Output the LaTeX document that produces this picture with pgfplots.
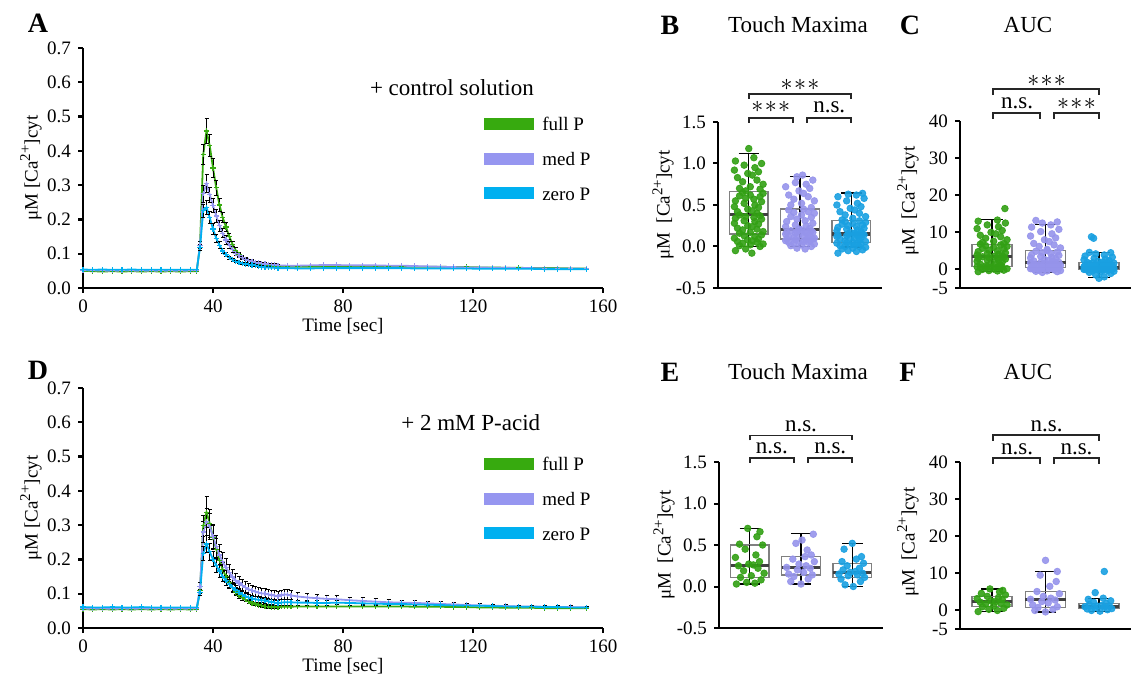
\documentclass[border=0pt]{standalone}
\usepackage{fontspec}
\setmainfont{Liberation Serif}
\usepackage{pgfplots}
\pgfplotsset{compat=1.18}
\usepackage{pgfplotstable}
\usepgfplotslibrary{statistics}

\definecolor{cg}{RGB}{55,170,15}
\definecolor{cp}{RGB}{150,150,240}
\definecolor{cb}{RGB}{0,176,240}
\definecolor{pg}{RGB}{50,160,20}
\definecolor{pp}{RGB}{150,148,235}
\definecolor{pb}{RGB}{25,160,225}

\newcommand{\tickfont}{\fontsize{9.5}{11}\selectfont}
\newcommand{\ttlfont}{\fontsize{11.5}{13.5}\selectfont}
\newcommand{\letfont}{\fontsize{14}{16}\selectfont\bfseries}
\newcommand{\casup}{\raisebox{0.85ex}{\fontsize{7.5}{8}\selectfont 2+}}

\pgfplotstableread{
t g ge p pe b be
0 0.050 0.002 0.052 0.002 0.054 0.002
3 0.049 0.002 0.051 0.002 0.053 0.002
6 0.048 0.002 0.051 0.002 0.054 0.002
9 0.049 0.002 0.050 0.002 0.053 0.002
12 0.048 0.002 0.051 0.002 0.053 0.002
15 0.049 0.002 0.051 0.002 0.054 0.002
18 0.048 0.002 0.050 0.002 0.053 0.002
21 0.049 0.002 0.051 0.002 0.053 0.002
24 0.048 0.002 0.050 0.002 0.053 0.002
27 0.049 0.002 0.051 0.002 0.053 0.002
30 0.048 0.002 0.050 0.002 0.053 0.002
33 0.049 0.002 0.051 0.002 0.053 0.002
35 0.049 0.002 0.051 0.002 0.053 0.002
36 0.125 0.010 0.125 0.010 0.118 0.008
37 0.390 0.030 0.275 0.025 0.225 0.018
38 0.458 0.037 0.305 0.025 0.235 0.020
39 0.415 0.032 0.272 0.022 0.205 0.018
40 0.350 0.028 0.240 0.020 0.172 0.015
41 0.292 0.022 0.210 0.018 0.145 0.012
42 0.242 0.018 0.182 0.016 0.125 0.010
43 0.205 0.015 0.160 0.014 0.108 0.008
44 0.178 0.012 0.140 0.012 0.097 0.006
45 0.150 0.010 0.125 0.010 0.088 0.005
46 0.128 0.008 0.112 0.008 0.082 0.004
47 0.110 0.007 0.101 0.007 0.077 0.004
48 0.098 0.006 0.094 0.006 0.074 0.003
49 0.090 0.005 0.088 0.005 0.072 0.003
50 0.084 0.004 0.083 0.004 0.070 0.003
51 0.080 0.004 0.080 0.004 0.068 0.003
52 0.077 0.004 0.078 0.004 0.067 0.003
53 0.074 0.003 0.075 0.003 0.065 0.003
54 0.072 0.003 0.073 0.003 0.063 0.002
55 0.070 0.003 0.071 0.003 0.061 0.002
56 0.068 0.003 0.070 0.003 0.060 0.002
57 0.066 0.003 0.069 0.003 0.060 0.002
58 0.065 0.003 0.068 0.003 0.059 0.002
59 0.064 0.003 0.067 0.003 0.059 0.002
60 0.063 0.003 0.066 0.003 0.058 0.002
63 0.062 0.003 0.065 0.003 0.058 0.002
66 0.062 0.003 0.065 0.003 0.057 0.002
70 0.062 0.003 0.066 0.003 0.057 0.002
74 0.062 0.003 0.067 0.003 0.058 0.002
78 0.063 0.003 0.067 0.003 0.058 0.002
82 0.063 0.003 0.066 0.003 0.058 0.002
86 0.063 0.003 0.066 0.003 0.058 0.002
90 0.063 0.003 0.066 0.003 0.058 0.002
94 0.063 0.003 0.065 0.003 0.058 0.002
98 0.062 0.003 0.065 0.003 0.058 0.002
102 0.062 0.003 0.064 0.003 0.057 0.002
106 0.062 0.003 0.063 0.003 0.057 0.002
110 0.062 0.003 0.062 0.003 0.057 0.002
114 0.061 0.003 0.061 0.003 0.057 0.002
118 0.061 0.003 0.060 0.003 0.057 0.002
122 0.060 0.003 0.060 0.003 0.056 0.002
126 0.060 0.003 0.059 0.003 0.056 0.002
130 0.059 0.003 0.059 0.003 0.056 0.002
134 0.059 0.003 0.058 0.003 0.056 0.002
138 0.058 0.003 0.058 0.003 0.056 0.002
142 0.058 0.003 0.057 0.003 0.055 0.002
146 0.058 0.003 0.057 0.003 0.055 0.002
150 0.057 0.003 0.057 0.003 0.055 0.002
155 0.057 0.003 0.056 0.003 0.055 0.002
}\dataA

\pgfplotstableread{
t g ge p pe b be
0 0.055 0.002 0.057 0.002 0.061 0.002
3 0.054 0.002 0.056 0.002 0.060 0.002
6 0.055 0.002 0.057 0.002 0.060 0.002
9 0.054 0.002 0.056 0.002 0.061 0.002
12 0.055 0.002 0.057 0.002 0.060 0.002
15 0.054 0.002 0.056 0.002 0.060 0.002
18 0.055 0.002 0.057 0.002 0.061 0.002
21 0.054 0.002 0.056 0.002 0.060 0.002
24 0.055 0.002 0.057 0.002 0.060 0.002
27 0.054 0.002 0.056 0.002 0.060 0.002
30 0.055 0.002 0.057 0.002 0.060 0.002
33 0.054 0.002 0.056 0.002 0.060 0.002
35 0.055 0.002 0.056 0.002 0.060 0.002
36 0.110 0.010 0.122 0.010 0.103 0.008
37 0.298 0.030 0.280 0.030 0.218 0.020
38 0.338 0.045 0.310 0.040 0.245 0.025
39 0.305 0.040 0.296 0.038 0.222 0.025
40 0.265 0.035 0.266 0.035 0.200 0.022
41 0.230 0.030 0.238 0.032 0.182 0.020
42 0.198 0.026 0.213 0.030 0.166 0.018
43 0.170 0.022 0.193 0.028 0.151 0.016
44 0.150 0.018 0.176 0.026 0.139 0.015
45 0.132 0.015 0.161 0.024 0.128 0.014
46 0.117 0.012 0.149 0.022 0.119 0.013
47 0.105 0.010 0.139 0.020 0.111 0.012
48 0.095 0.008 0.131 0.019 0.104 0.011
49 0.088 0.007 0.124 0.018 0.098 0.010
50 0.082 0.006 0.118 0.017 0.093 0.010
51 0.077 0.005 0.113 0.016 0.089 0.010
52 0.073 0.005 0.109 0.016 0.086 0.009
53 0.070 0.004 0.106 0.015 0.084 0.009
54 0.067 0.004 0.103 0.015 0.082 0.009
55 0.065 0.004 0.101 0.014 0.081 0.008
56 0.063 0.004 0.100 0.014 0.080 0.008
57 0.062 0.004 0.098 0.014 0.078 0.008
58 0.061 0.004 0.096 0.014 0.076 0.008
59 0.061 0.004 0.094 0.014 0.074 0.008
60 0.061 0.004 0.093 0.014 0.073 0.008
61 0.062 0.004 0.096 0.014 0.074 0.008
62 0.062 0.004 0.098 0.014 0.075 0.008
63 0.062 0.004 0.097 0.014 0.075 0.008
64 0.062 0.004 0.095 0.013 0.075 0.008
66 0.063 0.004 0.092 0.013 0.074 0.007
69 0.063 0.004 0.089 0.012 0.074 0.007
72 0.063 0.004 0.087 0.012 0.073 0.007
75 0.063 0.003 0.085 0.011 0.073 0.007
78 0.063 0.003 0.084 0.010 0.074 0.006
82 0.063 0.003 0.081 0.009 0.073 0.006
86 0.063 0.003 0.079 0.009 0.072 0.006
90 0.063 0.003 0.077 0.008 0.071 0.005
94 0.063 0.003 0.075 0.008 0.070 0.005
98 0.063 0.003 0.074 0.007 0.070 0.005
102 0.062 0.003 0.073 0.007 0.069 0.005
106 0.062 0.003 0.072 0.006 0.068 0.004
110 0.062 0.003 0.070 0.006 0.067 0.004
114 0.061 0.003 0.069 0.006 0.066 0.004
118 0.061 0.003 0.067 0.005 0.065 0.004
122 0.060 0.003 0.066 0.005 0.065 0.004
126 0.060 0.003 0.065 0.005 0.064 0.003
130 0.059 0.002 0.064 0.005 0.063 0.003
134 0.059 0.002 0.063 0.004 0.062 0.003
138 0.059 0.002 0.063 0.004 0.062 0.003
142 0.058 0.002 0.062 0.004 0.061 0.003
146 0.058 0.002 0.061 0.004 0.061 0.003
150 0.058 0.002 0.061 0.004 0.060 0.003
155 0.058 0.002 0.060 0.004 0.060 0.003
}\dataD

\pgfplotsset{
  linepanel/.style={scale only axis, anchor=south west, width=260pt, height=120pt,
    xmin=0, xmax=160, ymin=0, ymax=0.7,
    axis x line*=bottom, axis y line*=left, tick align=outside, major tick length=2.5pt,
    axis line style={line width=1.2pt}, tick style={line width=1.2pt, black},
    xtick={0,40,80,120,160},
    ytick={0,0.1,0.2,0.3,0.4,0.5,0.6,0.7},
    yticklabels={0.0,0.1,0.2,0.3,0.4,0.5,0.6,0.7},
    ticklabel style={font=\tickfont}, /pgf/number format/assume math mode=true,
    xlabel={Time [sec]}, ylabel={μM [Ca\casup]cyt},
    label style={font=\tickfont},
    xlabel style={at={(axis description cs:0.5,0)}, anchor=center, yshift=-19pt},
    ylabel style={at={(axis description cs:-0.1,0.5)}, anchor=center},
    legend style={at={(axis cs:121.5,0.505)}, anchor=north west, draw=none, fill=none,
      inner sep=0pt, row sep=8.5pt, font=\tickfont,
      nodes={inner sep=1pt, text height=6.8pt, text depth=0pt},
      /tikz/every even column/.append style={column sep=2pt}},
    legend cell align=left,
    legend image code/.code={\draw[line width=6pt] (0pt,0pt) -- (25pt,0pt);}},
  ser/.style={color=#1, line width=0.9pt, mark=+, mark size=1.3pt,
    mark options={line width=0.6pt, solid}},
  eb/.style={forget plot, mark=none, draw=none,
    error bars/.cd, y dir=both, y explicit,
    error bar style={draw=black, line width=0.5pt},
    error mark options={rotate=90, draw=black, mark size=1pt, line width=0.5pt}},
  boxpanel/.style={scale only axis, anchor=south west, xmin=0.4, xmax=3.6,
    axis x line*=bottom, axis y line*=left, xtick=\empty, tick align=outside,
    major tick length=2.5pt,
    axis line style={line width=1pt}, tick style={line width=1pt, black},
    ticklabel style={font=\tickfont}, label style={font=\tickfont},
    ylabel={μM\ \ [Ca\casup]cyt},
    clip=false,
    boxplot/draw direction=y,
    boxplot/every box/.style={draw=black!50, line width=0.7pt},
    boxplot/every median/.style={draw=black!75, line width=1.6pt},
    boxplot/every whisker/.style={black, line width=0.6pt}},
  tm/.style={boxpanel, width=82pt, height=83pt, ymin=-0.5, ymax=1.5,
    ytick={-0.5,0,0.5,1,1.5}, yticklabels={-0.5,0.0,0.5,1.0,1.5},
    ylabel style={at={(axis description cs:-0.335,0.5)}, anchor=center}},
  auc/.style={boxpanel, width=85.5pt, height=83.5pt, ymin=-5, ymax=40,
    ytick={-5,0,10,20,30,40}, yticklabels={-5,0,10,20,30,40},
    ylabel style={at={(axis description cs:-0.304,0.52)}, anchor=center}},
  pts/.style={only marks, mark=*, mark size=1.65pt, color=#1, fill=#1,
    mark options={draw=#1, fill=#1, fill opacity=0.9, draw opacity=0.9}},
}

% box: position, lower whisker, Q1, median, Q3, upper whisker
\newcommand{\bx}[6]{%
  \addplot[boxplot/draw direction=y, boxplot prepared={draw position=#1, lower whisker=#2, lower quartile=#3,
    median=#4, upper quartile=#5, upper whisker=#6, box extend=0.75, whisker extend=0.4}]
    coordinates {};
  \addplot[black, line width=0.6pt] coordinates {(#1,#3) (#1,#5)};
}
% bracket: x1, x2, y, ybottom
\newcommand{\brk}[4]{\draw[line width=0.9pt, black!85] (axis cs:#1,#4) -- (axis cs:#1,#3) -- (axis cs:#2,#3) -- (axis cs:#2,#4);}
\newcommand{\st}{{\fontsize{13}{14}\selectfont$\ast\!\ast\!\ast$}}

\begin{document}
\begin{tikzpicture}
\useasboundingbox (0,0) rectangle (566.5pt,340pt);

% ---------------- A ----------------
\begin{axis}[linepanel, at={(41.5pt,196pt)}]
  \addplot[ser=cg] table[x=t, y=g] {\dataA};
  \addplot[restrict x to domain=36:60, eb] table[x=t, y=g, y error=ge] {\dataA};
  \addplot[ser=cp] table[x=t, y=p] {\dataA};
  \addplot[restrict x to domain=36:60, eb] table[x=t, y=p, y error=pe] {\dataA};
  \addplot[ser=cb] table[x=t, y=b] {\dataA};
  \addplot[restrict x to domain=36:55, eb] table[x=t, y=b, y error=be] {\dataA};
  \legend{full P, med P, zero P}
  \node[font=\ttlfont] at (axis cs:113.5,0.583) {+ control solution};
\end{axis}

% ---------------- D ----------------
\begin{axis}[linepanel, at={(41.5pt,26pt)}]
  \addplot[ser=cg] table[x=t, y=g] {\dataD};
  \addplot[restrict x to domain=36:60, eb] table[x=t, y=g, y error=ge] {\dataD};
  \addplot[ser=cp] table[x=t, y=p] {\dataD};
  \addplot[restrict x to domain=36:155, eb] table[x=t, y=p, y error=pe] {\dataD};
  \addplot[ser=cb] table[x=t, y=b] {\dataD};
  \addplot[restrict x to domain=36:100, eb] table[x=t, y=b, y error=be] {\dataD};
  \legend{full P, med P, zero P}
  \node[font=\ttlfont] at (axis cs:119.3,0.598) {+ 2 mM P-acid};
\end{axis}

% ---------------- B ----------------
\begin{axis}[tm, at={(359pt,196pt)}]
  \addplot[pts=pg] coordinates {
  (1.06,-0.08) (0.74,-0.05) (0.94,-0.03) (1.22,0.0) (0.82,0.01) (1.03,0.02) (1.28,0.03) (0.88,0.04) (1.16,0.05) (0.78,0.06) (1.07,0.07) (0.98,0.08) (1.19,0.09) (0.72,0.10) (1.12,0.12) (0.91,0.13) (1.25,0.14)
  (0.82,0.16) (1.03,0.17) (1.28,0.18) (0.88,0.20) (1.16,0.21) (0.78,0.22) (1.07,0.24) (0.98,0.25) (1.19,0.27) (0.72,0.28) (1.12,0.30) (0.91,0.31) (1.25,0.33) (0.74,0.34) (1.10,0.35) (0.94,0.36) (1.22,0.37) (0.82,0.38)
  (1.16,0.40) (0.78,0.42) (1.07,0.43) (0.98,0.45) (1.19,0.47) (0.72,0.48) (1.12,0.50) (0.91,0.52) (1.25,0.54) (0.74,0.55) (1.10,0.57) (0.94,0.58) (1.22,0.60) (0.82,0.61) (1.03,0.62) (1.28,0.64) (0.88,0.65)
  (0.94,0.67) (1.22,0.69) (0.82,0.70) (1.03,0.72) (1.28,0.75) (0.88,0.78) (1.16,0.80) (0.78,0.83) (1.07,0.86) (0.98,0.88) (1.19,0.90) (0.72,0.92) (1.12,0.95) (0.91,0.98) (1.25,1.00) (0.74,1.03) (1.10,1.07) (1.00,1.18)};
  \addplot[pts=pp] coordinates {
  (2.10,-0.03) (1.94,-0.02) (2.22,0.0) (1.82,0.01) (2.03,0.02) (2.28,0.03) (1.88,0.04) (2.16,0.05) (1.78,0.05) (2.07,0.06) (1.98,0.06) (2.19,0.07) (1.72,0.07) (2.12,0.08) (1.91,0.08) (2.25,0.09) (1.74,0.09)
  (2.28,0.10) (1.88,0.11) (2.16,0.11) (1.78,0.12) (2.07,0.13) (1.98,0.14) (2.19,0.14) (1.72,0.15) (2.12,0.16) (1.91,0.16) (2.25,0.17) (1.74,0.17) (2.10,0.18) (1.94,0.18) (2.22,0.19) (1.82,0.19) (2.03,0.20)
  (1.98,0.21) (2.19,0.22) (1.72,0.24) (2.12,0.25) (1.91,0.26) (2.25,0.28) (1.74,0.30) (2.10,0.31) (1.94,0.33) (2.22,0.35) (1.82,0.36) (2.03,0.38) (2.28,0.40) (1.88,0.41) (2.16,0.42) (1.78,0.44) (2.07,0.45)
  (2.22,0.47) (1.82,0.50) (2.03,0.52) (2.28,0.55) (1.88,0.57) (2.16,0.60) (1.78,0.62) (2.07,0.64) (1.98,0.67) (2.19,0.70) (1.72,0.72) (2.12,0.75) (1.91,0.77) (2.25,0.80) (1.94,0.84) (2.05,0.86)};
  \addplot[pts=pb] coordinates {
  (2.74,-0.08) (3.10,-0.06) (2.94,-0.05) (3.22,-0.04) (2.82,-0.03) (3.03,-0.02) (3.28,-0.01) (2.88,0.0) (3.16,0.0) (2.78,0.01) (3.07,0.02) (2.98,0.02) (3.19,0.03) (2.72,0.04) (3.12,0.04) (2.91,0.045)
  (3.03,0.05) (3.28,0.06) (2.88,0.07) (3.16,0.08) (2.78,0.09) (3.07,0.10) (2.98,0.10) (3.19,0.11) (2.72,0.12) (3.12,0.13) (2.91,0.13) (3.25,0.14) (2.74,0.14) (3.10,0.15) (2.94,0.15) (3.22,0.15)
  (3.07,0.16) (2.98,0.17) (3.19,0.18) (2.72,0.19) (3.12,0.20) (2.91,0.21) (3.25,0.22) (2.74,0.23) (3.10,0.24) (2.94,0.25) (3.22,0.26) (2.82,0.27) (3.03,0.28) (3.28,0.29) (2.88,0.30) (3.16,0.31)
  (2.82,0.32) (3.03,0.34) (3.28,0.36) (2.88,0.38) (3.16,0.40) (2.78,0.42) (3.07,0.44) (2.98,0.46) (3.19,0.48) (2.72,0.50) (3.12,0.52) (2.91,0.55) (3.25,0.58) (2.74,0.60) (3.10,0.62) (2.94,0.63) (3.22,0.64)};
  \bx{1}{0.0}{0.15}{0.39}{0.66}{1.12}
  \bx{2}{0.0}{0.09}{0.20}{0.45}{0.84}
  \bx{3}{-0.005}{0.045}{0.15}{0.31}{0.645}
  \brk{1}{3}{1.84}{1.78}
  \brk{1}{1.86}{1.55}{1.49}
  \brk{2.14}{3}{1.55}{1.49}
  \node at (axis cs:2,1.95) {\st};
  \node at (axis cs:1.43,1.68) {\st};
  \node[font=\ttlfont] at (axis cs:2.57,1.68) {n.s.};
\end{axis}

% ---------------- C ----------------
\begin{axis}[auc, at={(480pt,196pt)}]
  \addplot[pts=pg] coordinates {
  (0.74,-0.6) (1.10,-0.4) (0.94,-0.3) (1.22,-0.2) (0.82,0.0) (1.03,0.1) (1.28,0.2) (0.88,0.3) (1.16,0.4) (0.78,0.5) (1.07,0.5) (0.98,0.6) (1.19,0.7) (0.72,0.7) (1.12,0.8) (0.91,0.8)
  (0.88,1.0) (1.16,1.2) (0.78,1.4) (1.07,1.6) (0.98,1.8) (1.19,2.0) (0.72,2.2) (1.12,2.4) (0.91,2.6) (1.25,2.8) (0.74,3.0) (1.10,3.1) (0.94,3.2) (1.22,3.3) (0.82,3.4) (1.03,3.5)
  (1.19,3.7) (0.72,3.9) (1.12,4.1) (0.91,4.3) (1.25,4.5) (0.74,4.8) (1.10,5.0) (0.94,5.2) (1.22,5.5) (0.82,5.7) (1.03,6.0) (1.28,6.2) (0.88,6.4) (1.16,6.6) (0.78,6.8)
  (1.22,7.0) (0.82,7.3) (1.03,7.6) (1.28,8.0) (0.88,8.4) (1.16,8.8) (0.78,9.2) (1.07,9.6) (0.98,10.0) (1.19,10.5) (0.72,11.0) (1.12,11.5) (0.91,12.0) (1.25,12.5) (0.74,13.0) (1.10,13.3) (1.24,16.4)};
  \addplot[pts=pp] coordinates {
  (1.94,-0.8) (2.22,-0.6) (1.82,-0.5) (2.03,-0.4) (2.28,-0.3) (1.88,-0.2) (2.16,-0.1) (1.78,0.0) (2.07,0.1) (1.98,0.1) (2.19,0.2) (1.72,0.2) (2.12,0.3) (1.91,0.3) (2.25,0.4) (1.74,0.5)
  (2.10,0.6) (1.94,0.7) (2.22,0.8) (1.82,0.9) (2.03,1.0) (2.28,1.1) (1.88,1.2) (2.16,1.3) (1.78,1.4) (2.07,1.5) (1.98,1.6) (2.19,1.7) (1.72,1.8) (2.12,1.8) (1.91,1.9) (2.25,1.9)
  (2.16,2.1) (1.78,2.3) (2.07,2.5) (1.98,2.7) (2.19,2.9) (1.72,3.1) (2.12,3.3) (1.91,3.5) (2.25,3.8) (1.74,4.0) (2.10,4.3) (1.94,4.5) (2.22,4.7) (1.82,4.9) (2.03,5.1)
  (2.03,5.4) (2.28,5.8) (1.88,6.2) (2.16,6.6) (1.78,7.0) (2.07,7.5) (1.98,8.0) (2.19,8.5) (1.72,9.0) (2.12,9.6) (1.91,10.2) (2.25,10.8) (1.74,11.4) (2.10,12.0) (1.94,12.5) (2.22,12.8) (1.82,13.2)};
  \addplot[pts=pb] coordinates {
  (3.00,-2.4) (3.10,-2.0) (2.94,-1.5) (3.22,-1.1) (2.82,-0.8) (3.03,-0.6) (3.28,-0.5) (2.88,-0.4) (3.16,-0.3) (2.78,-0.2) (3.07,-0.2) (2.98,-0.1) (3.19,-0.1) (2.72,0.0) (3.12,0.0)
  (2.91,0.05) (3.25,0.1) (2.74,0.1) (3.10,0.15) (2.94,0.2) (3.22,0.2) (2.82,0.25) (3.03,0.3) (3.28,0.3) (2.88,0.35) (3.16,0.4) (2.78,0.45) (3.07,0.5) (2.98,0.55) (3.19,0.6)
  (2.72,0.7) (3.12,0.8) (2.91,0.9) (3.25,1.0) (2.74,1.1) (3.10,1.2) (2.94,1.3) (3.22,1.4) (2.82,1.5) (3.03,1.6) (3.28,1.7) (2.88,1.8) (3.16,1.85) (2.78,1.9)
  (3.07,2.0) (2.98,2.2) (3.19,2.4) (2.72,2.6) (3.12,2.8) (2.91,3.0) (3.25,3.3) (2.74,3.6) (3.10,3.9) (2.94,4.2) (3.22,4.5) (2.82,4.6) (2.90,8.4) (2.86,8.8)};
  \bx{1}{-0.6}{0.8}{3.5}{6.8}{13.5}
  \bx{2}{-0.8}{0.5}{1.9}{5.1}{12.2}
  \bx{3}{-2.2}{0.0}{0.6}{1.9}{4.6}
  \brk{1.02}{3}{48.6}{47.0}
  \brk{1.02}{1.9}{42.2}{40.6}
  \brk{2.16}{3}{42.2}{40.6}
  \node at (axis cs:2.02,50.8) {\st};
  \node[font=\ttlfont] at (axis cs:1.47,44.9) {n.s.};
  \node at (axis cs:2.58,44.6) {\st};
\end{axis}

% ---------------- E ----------------
\begin{axis}[tm, at={(359.5pt,26pt)}]
  \addplot[pts=pg] coordinates {
  (0.74,0.03) (1.10,0.04) (0.94,0.05) (1.22,0.08) (0.82,0.11) (1.03,0.13) (1.28,0.16) (0.88,0.19) (1.16,0.22) (0.78,0.25) (1.07,0.26) (0.98,0.27) (1.19,0.30) (0.72,0.35) (1.12,0.38) (0.91,0.45) (1.25,0.50) (0.80,0.51) (1.14,0.60) (1.20,0.66) (0.96,0.70)};
  \addplot[pts=pp] coordinates {
  (2.00,0.03) (1.80,0.06) (2.14,0.09) (1.86,0.12) (2.22,0.14) (1.76,0.15) (2.05,0.17) (1.93,0.20) (2.18,0.22) (1.72,0.23) (2.10,0.25) (1.96,0.27) (2.26,0.30) (1.84,0.33) (2.08,0.36) (2.20,0.38) (2.12,0.44) (1.90,0.52) (2.02,0.56) (2.24,0.63)};
  \addplot[pts=pb] coordinates {
  (3.02,0.0) (2.86,0.02) (3.16,0.06) (2.78,0.09) (3.24,0.11) (2.92,0.13) (3.10,0.14) (2.74,0.15) (3.20,0.16) (2.96,0.17) (3.06,0.18) (2.82,0.20) (3.14,0.22) (2.90,0.25) (3.22,0.28) (2.80,0.30) (3.08,0.33) (3.18,0.36) (2.84,0.45) (3.00,0.52)};
  \bx{1}{0.03}{0.11}{0.255}{0.50}{0.70}
  \bx{2}{0.03}{0.14}{0.23}{0.36}{0.64}
  \bx{3}{0.0}{0.11}{0.17}{0.28}{0.52}
  \brk{1}{3}{1.82}{1.76}
  \brk{1}{1.86}{1.55}{1.49}
  \brk{2.14}{3}{1.55}{1.49}
  \node[font=\ttlfont] at (axis cs:2,1.93) {n.s.};
  \node[font=\ttlfont] at (axis cs:1.43,1.66) {n.s.};
  \node[font=\ttlfont] at (axis cs:2.57,1.66) {n.s.};
\end{axis}

% ---------------- F ----------------
\begin{axis}[auc, at={(480pt,25.5pt)}]
  \addplot[pts=pg] coordinates {
  (0.74,-0.3) (1.10,0.0) (0.94,0.3) (1.22,0.6) (0.82,1.0) (1.03,1.2) (1.28,1.5) (0.88,1.8) (1.16,2.0) (0.78,2.2) (1.07,2.4) (0.98,2.6) (1.19,2.9) (0.72,3.2) (1.12,3.5) (0.91,3.8) (1.25,4.2) (0.80,4.6) (1.14,5.0) (1.20,5.4) (0.96,5.8)};
  \addplot[pts=pp] coordinates {
  (2.00,-0.4) (1.80,0.0) (2.14,0.3) (1.86,0.8) (2.22,1.0) (1.76,1.5) (2.05,2.0) (1.93,2.4) (2.18,2.8) (1.72,3.0) (2.10,3.3) (1.96,3.8) (2.26,4.5) (1.84,5.1) (2.08,6.5) (2.20,7.8) (1.90,9.5) (2.22,10.5) (2.00,13.5)};
  \addplot[pts=pb] coordinates {
  (3.02,-0.2) (2.86,0.0) (3.16,0.2) (2.78,0.4) (3.24,0.5) (2.92,0.7) (3.10,0.9) (2.74,1.0) (3.20,1.1) (2.96,1.2) (3.06,1.4) (2.82,1.6) (3.14,1.9) (2.90,2.2) (3.22,2.6) (2.80,3.0) (3.08,3.3) (2.93,4.8) (3.10,10.5)};
  \bx{1}{-0.3}{1.1}{2.4}{3.7}{5.8}
  \bx{2}{-0.4}{0.8}{2.9}{5.1}{10.5}
  \bx{3}{-0.2}{0.5}{1.1}{1.9}{3.3}
  \brk{1.02}{3}{47.3}{45.7}
  \brk{1.02}{1.9}{41.1}{39.5}
  \brk{2.16}{3}{41.1}{39.5}
  \node[font=\ttlfont] at (axis cs:2.02,49.7) {n.s.};
  \node[font=\ttlfont] at (axis cs:1.47,43.5) {n.s.};
  \node[font=\ttlfont] at (axis cs:2.58,43.5) {n.s.};
\end{axis}

% panel letters and titles
\node[font=\letfont] at (19pt,328.5pt) {A};
\node[font=\letfont] at (19pt,155pt) {D};
\node[font=\letfont] at (335pt,327.5pt) {B};
\node[font=\ttlfont] at (399pt,327.5pt) {Touch Maxima};
\node[font=\letfont] at (455pt,327.5pt) {C};
\node[font=\ttlfont] at (514pt,327.5pt) {AUC};
\node[font=\letfont] at (335pt,154pt) {E};
\node[font=\ttlfont] at (399pt,154pt) {Touch Maxima};
\node[font=\letfont] at (454pt,154pt) {F};
\node[font=\ttlfont] at (514pt,154pt) {AUC};
\end{tikzpicture}
\end{document}
